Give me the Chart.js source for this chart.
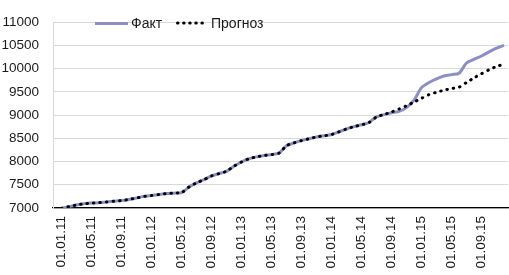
<!DOCTYPE html>
<html>
<head>
<meta charset="utf-8">
<script src="https://cdn.jsdelivr.net/npm/chart.js@4.4.1/dist/chart.umd.min.js"></script>
<style>
  html, body { margin: 0; padding: 0; background: #fff; }
  #wrap { position: relative; width: 509px; height: 275px; overflow: hidden; }
  canvas { position: absolute; left: 0; top: 0; }
  .lg { position: absolute; font-family: "Liberation Sans", Arial, sans-serif; font-size: 14px; color: #1a1a1a; line-height: 16px; white-space: nowrap; }
</style>
</head>
<body>
<div id="wrap">
  <canvas id="c" width="509" height="275"></canvas>
  <div class="lg" style="left:95px;top:21.5px;width:33px;height:3px;background:#8a8fc6;"></div>
  <div class="lg" style="left:131px;top:15px;">Факт</div>
  <svg class="lg" style="left:176px;top:21px;" width="32" height="4"><line x1="1.5" y1="2" x2="31" y2="2" stroke="#000" stroke-width="3" stroke-linecap="round" stroke-dasharray="0.5,5.6"/></svg>
  <div class="lg" style="left:211px;top:15px;">Прогноз</div>
</div>
<script>
// Month labels (first day of each month), Jan 2011 .. Dec 2015
const months = [];
for (let y = 11; y <= 15; y++) {
  for (let m = 1; m <= 12; m++) {
    months.push('01.' + String(m).padStart(2, '0') + '.' + y);
  }
}
// Tick label positions shown on the axis (every 4th month)
const tickIdx = [0, 4, 8, 12, 16, 20, 24, 28, 32, 36, 40, 44, 48, 52, 56];

const factValues = [
  6995, 7030, 7065, 7090, 7105, 7115, 7130, 7145, 7160, 7185,
  7215, 7250, 7270, 7290, 7310, 7320, 7330, 7450, 7540, 7610,
  7690, 7740, 7790, 7900, 7990, 8060, 8100, 8130, 8150, 8180,
  8340, 8400, 8450, 8490, 8530, 8555, 8580, 8640, 8700, 8750,
  8790, 8840, 8960, 9010, 9050, 9080, 9160, 9320, 9590, 9700,
  9780, 9840, 9870, 9900, 10120, 10200, 10270, 10360, 10440, 10500
];
const forecastValues = [
  6995, 7030, 7065, 7090, 7105, 7115, 7130, 7145, 7160, 7185,
  7215, 7250, 7270, 7290, 7310, 7320, 7330, 7450, 7540, 7610,
  7690, 7740, 7790, 7900, 7990, 8060, 8100, 8130, 8150, 8180,
  8340, 8400, 8450, 8490, 8530, 8555, 8580, 8640, 8700, 8750,
  8790, 8840, 8960, 9010, 9065, 9130, 9200, 9280, 9360, 9440,
  9490, 9535, 9570, 9600, 9700, 9800, 9890, 9975, 10045, 10095
];
const yTicks = { min: 7000, max: 11000, step: 500 };

const toPts = arr => arr.map((v, i) => ({ x: i, y: v }));
const FONT = { family: '"Liberation Sans", Arial, sans-serif', size: 13.5 };

new Chart(document.getElementById('c'), {
  type: 'line',
  data: {
    datasets: [
      {
        label: 'Факт',
        data: toPts(factValues),
        borderColor: '#8a8fc6',
        borderWidth: 3,
        pointRadius: 0,
        tension: 0.25,
        order: 1
      },
      {
        label: 'Прогноз',
        data: toPts(forecastValues),
        borderColor: '#000000',
        borderWidth: 3,
        borderDash: [0.5, 6],
        borderCapStyle: 'round',
        pointRadius: 0,
        tension: 0.25,
        order: 0
      }
    ]
  },
  options: {
    responsive: false,
    animation: false,
    devicePixelRatio: 1,
    layout: { padding: { top: 5, right: 1, left: 0, bottom: 0 } },
    plugins: { legend: { display: false }, tooltip: { enabled: false } },
    scales: {
      x: {
        type: 'linear',
        min: -1.13,
        max: 59.53,
        afterBuildTicks: s => { s.ticks = tickIdx.map(v => ({ value: v })); },
        afterFit: s => { s.height = 67; },
        ticks: {
          autoSkip: false,
          maxRotation: 90,
          minRotation: 90,
          padding: 8,
          color: '#1a1a1a',
          font: FONT,
          callback: v => months[v]
        },
        grid: { display: false, drawTicks: false },
        border: { display: true, color: '#000', width: 1.3 }
      },
      y: {
        min: yTicks.min,
        max: yTicks.max,
        afterFit: s => { s.width = 53; },
        ticks: {
          stepSize: yTicks.step,
          padding: 14,
          color: '#1a1a1a',
          font: FONT,
          callback: v => String(v)
        },
        grid: { color: '#d9d9d9', lineWidth: 1, drawTicks: false },
        border: { display: true, color: '#d9d9d9' }
      }
    }
  }
});
</script>
</body>
</html>
